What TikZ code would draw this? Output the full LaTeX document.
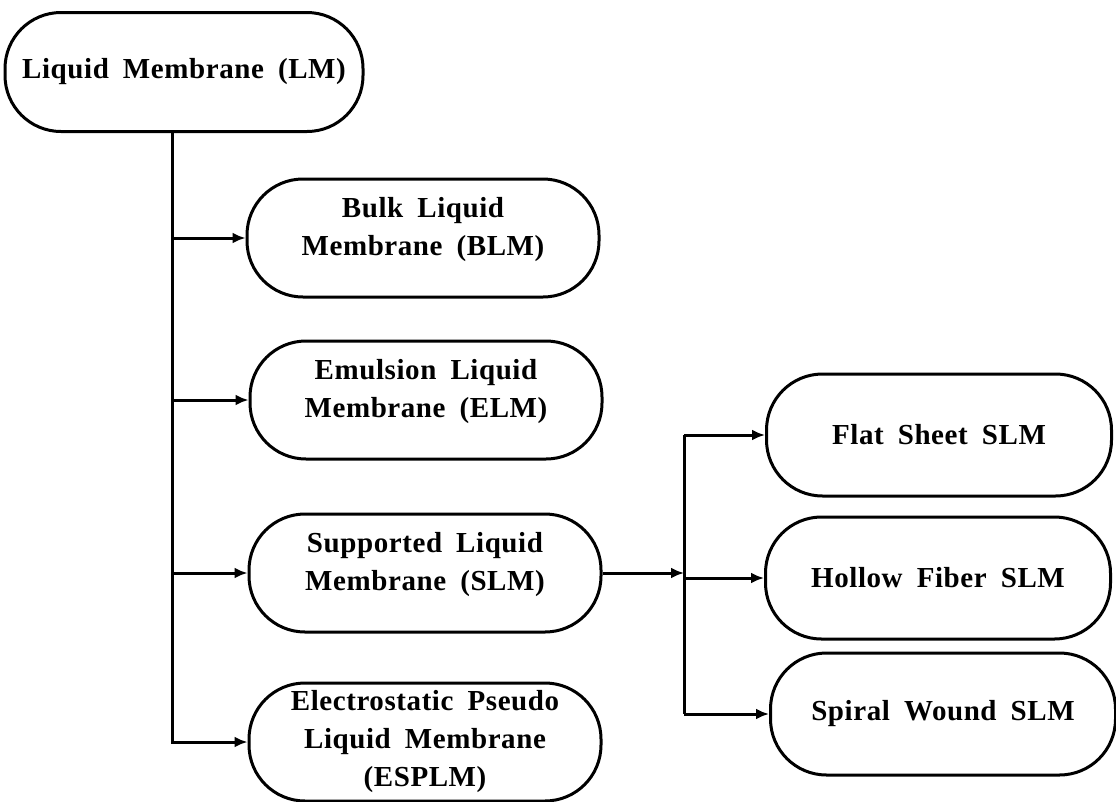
\documentclass[tikz,border=0pt]{standalone}
\usepackage{fontspec}
\setmainfont{Liberation Serif}[LetterSpace=2,WordSpace=1.8]
\usetikzlibrary{arrows.meta, positioning, calc}

\begin{document}
\begin{tikzpicture}[
  x=1pt, y=-1pt,
  lmbox/.style={draw, line width=3pt, rounded corners=56pt, align=center,
                inner sep=0pt, minimum width=352pt, minimum height=118pt},
  twoline/.style={text depth=24pt},
  slmbox/.style={lmbox, minimum width=345pt, minimum height=122pt},
  conn/.style={line width=3pt, -{Latex[length=13pt,width=11pt]}},
  trunkline/.style={line width=3pt},
  every node/.style={font=\fontsize{29}{38}\selectfont\bfseries},
]
\useasboundingbox (0,0) rectangle (1116,801);

%% ============ ROOT ============
\node[lmbox, minimum width=358pt, minimum height=119pt] (lm) at (184,72) {Liquid Membrane (LM)};

%% ============ LM TYPES ============
\node[lmbox, twoline] (blm)   at (423,238) {Bulk Liquid\\Membrane (BLM)};
\node[lmbox, twoline] (elm)   at (426,400) {Emulsion Liquid\\Membrane (ELM)};
\node[lmbox, twoline] (slm)   at (425,573) {Supported Liquid\\Membrane (SLM)};
\node[lmbox] (esplm) at (425,742) {Electrostatic Pseudo\\Liquid Membrane\\(ESPLM)};

%% ============ SLM TYPES ============
\node[slmbox] (flat)   at (939,435) {Flat Sheet SLM};
\node[slmbox] (hollow) at (938,578) {Hollow Fiber SLM};
\node[slmbox] (spiral) at (943,714) {Spiral Wound SLM};

%% ---- trunk from LM ----
\coordinate (trunk) at (172,132);
\draw[conn] (trunk) |- (esplm.west);
\foreach \n in {blm,elm,slm}{
  \draw[conn] (trunk |- \n.west) -- (\n.west);
}

%% ---- fork from SLM ----
\coordinate (fork) at (684,578);
\draw[conn] (slm.east) -- (fork |- slm.east);
\draw[trunkline] (fork |- flat.west) -- (fork |- spiral.west);
\foreach \n in {flat,hollow,spiral}{
  \draw[conn] (fork |- \n.west) -- (\n.west);
}

\end{tikzpicture}
\end{document}
